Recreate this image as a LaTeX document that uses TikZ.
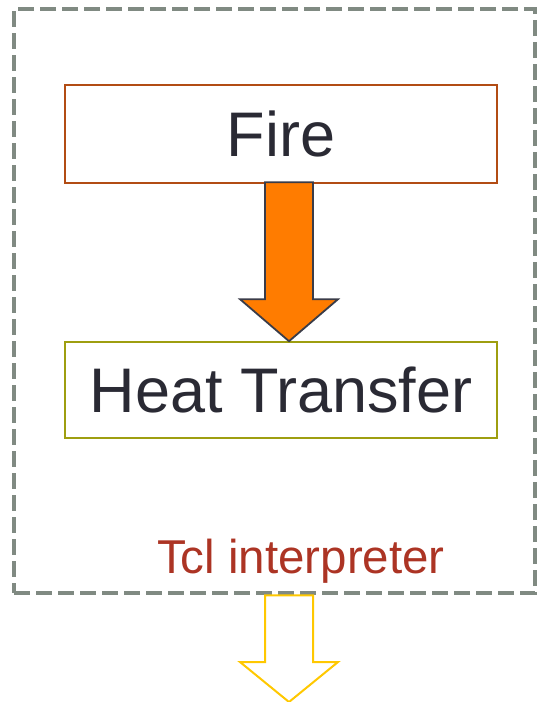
\documentclass[tikz,border=0pt]{standalone}
\usepackage{fontspec}
\setmainfont{Liberation Sans}
\usetikzlibrary{calc}
\definecolor{framegray}{RGB}{128,138,130}
\definecolor{firerust}{RGB}{178,76,20}
\definecolor{heatolive}{RGB}{158,158,16}
\definecolor{inkdark}{RGB}{42,42,52}
\definecolor{tclred}{RGB}{172,52,36}
\definecolor{flameorange}{RGB}{255,124,0}
\definecolor{arrowedge}{RGB}{58,60,72}
\definecolor{outyellow}{RGB}{255,200,0}
\tikzset{
  framebox/.style={draw=framegray, line width=4.5pt, dash pattern=on 16pt off 6pt,
    minimum width=521pt, minimum height=584pt, inner sep=0pt},
  stagebox/.style={line width=1.6pt, minimum width=432pt, inner sep=0pt,
    text=inkdark, font=\fontsize{63}{63}\selectfont},
  flowarrow/.style={draw=arrowedge, line width=1.8pt, fill=flameorange, line join=miter},
  exitarrow/.style={draw=outyellow, line width=2pt, line join=miter},
  framelabel/.style={text=tclred, font=\fontsize{47.5}{47.5}\selectfont, inner sep=0pt, anchor=base}
}
\begin{document}
\begin{tikzpicture}[x=1pt,y=-1pt]
  \useasboundingbox (0,0) rectangle (537,702);

  % interpreter frame
  \node[framebox] (tcl) at (274.5,301) {};
  \node[framelabel] (tcllabel) at (301,573) {Tcl interpreter};

  % the two stages
  \node[stagebox, draw=firerust, minimum height=98pt] (fire) at (281,134) {Fire};
  \node[stagebox, draw=heatolive, minimum height=96pt] (heat) at (281,390) {Heat Transfer};

  % both block arrows share this vertical axis
  \coordinate (axis) at (289,0);
  \coordinate (from) at (fire.south -| axis);
  \coordinate (to) at (heat.north -| axis);

  % block arrow from Fire to Heat Transfer
  \draw[flowarrow]
    ($(from)+(-24,-1.5)$) -- ($(to)+(-24,-42)$) -- ($(to)+(-49,-42)$)
    -- (to)
    -- ($(to)+(49,-42)$) -- ($(to)+(24,-42)$) -- ($(from)+(24,-1.5)$) -- cycle;

  % hollow arrow leaving the interpreter
  \coordinate (out) at (289,702);
  \draw[exitarrow]
    ($(tcl.south -| out)+(-24,0)$) -- ($(out)+(-24,-40)$) -- ($(out)+(-49,-40)$)
    -- (out)
    -- ($(out)+(49,-40)$) -- ($(out)+(24,-40)$) -- ($(tcl.south -| out)+(24,0)$) -- cycle;
\end{tikzpicture}
\end{document}
